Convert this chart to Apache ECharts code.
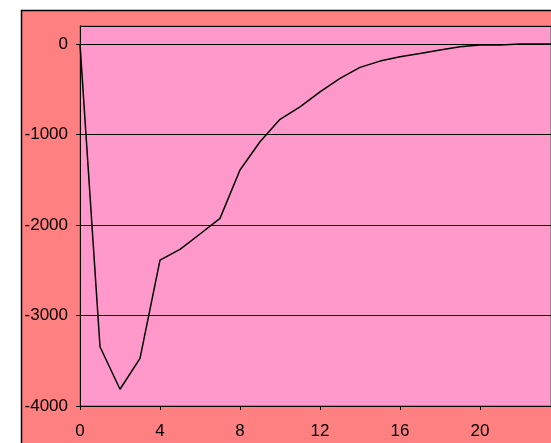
<!DOCTYPE html>
<html><head><meta charset="utf-8">
<script src="https://cdn.jsdelivr.net/npm/echarts@6/dist/echarts.min.js"></script>
<style>html,body{margin:0;padding:0;background:#fff}#c{width:551px;height:443px}</style>
</head><body><div id="c"></div>
<script>
var xValues = [0,1,2,3,4,5,6,7,8,9,10,11,12,13,14,15,16,17,18,19,20,21,22,23,24];
var yValues = [0,-3345,-3815,-3473,-2387,-2269,-2099,-1926,-1392,-1079,-832,-693,-527,-379,-257,-188,-140,-103,-66,-30,-11,-10,0,0,0];
var xTicks = [0,4,8,12,16,20];
var yTicks = [-4000,-3000,-2000,-1000,0];

var data = xValues.map(function(x,i){return [x,yValues[i]];});
var chart = echarts.init(document.getElementById('c'), null, {renderer:'canvas'});
var font = 'Liberation Sans, Arial, sans-serif';
chart.setOption({
  animation:false,
  backgroundColor:'#ffffff',
  graphic:[{type:'rect',z:-10,shape:{x:21.5,y:10.5,width:600,height:500},style:{fill:'#FF8080',stroke:'#000',lineWidth:1.5}}],
  grid:{left:80,top:26,right:0,bottom:37,show:true,backgroundColor:'#FF99CC',borderColor:'#808080',borderWidth:1.5},
  xAxis:{type:'value',min:0,max:23.55,interval:4,
    axisLine:{show:true,onZero:false,lineStyle:{color:'#000',width:1}},
    axisTick:{show:true,length:4,inside:false,lineStyle:{color:'#000'}},
    splitLine:{show:false},
    axisLabel:{color:'#000',fontFamily:font,fontSize:17,margin:17,showMaxLabel:false,
      formatter:function(v){return xTicks.indexOf(v)>=0?String(v):'';}}},
  yAxis:{type:'value',min:-4000,max:200,interval:1000,
    axisLine:{show:true,onZero:false,lineStyle:{color:'#000',width:1}},
    axisTick:{show:true,length:4,lineStyle:{color:'#000'}},
    splitLine:{show:true,lineStyle:{color:'#000',width:1}},
    axisLabel:{color:'#000',fontFamily:font,fontSize:17,margin:12,showMaxLabel:false,
      formatter:function(v){return yTicks.indexOf(v)>=0?String(v):'';}}},
  series:[{type:'line',data:data,showSymbol:false,lineStyle:{color:'#000',width:1.5},clip:true}]
});
</script></body></html>
